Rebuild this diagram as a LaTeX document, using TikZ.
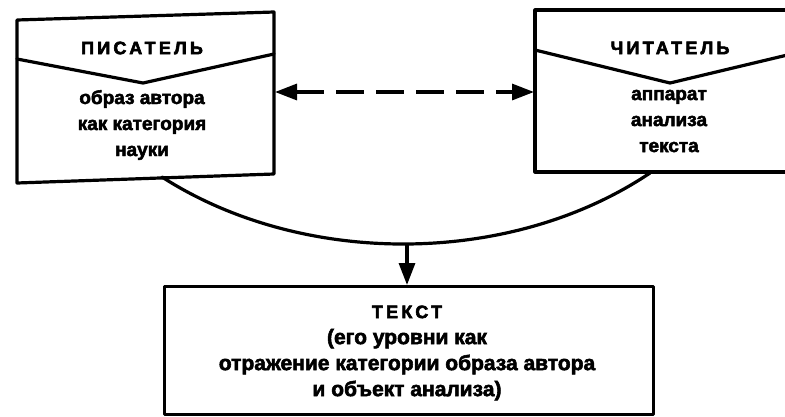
\documentclass[tikz,border=0pt]{standalone}
\usepackage{fontspec}
\setmainfont{Liberation Sans}
\newfontfamily\heavy{Liberation Sans Bold}[FakeBold=2.6]
\newfontfamily\heavycaps{Liberation Sans Bold}[FakeBold=3.2, LetterSpace=18]
\usetikzlibrary{arrows.meta}
\begin{document}
\begin{tikzpicture}[x=1pt,y=-1pt,
  outline/.style={line width=3.2pt, line join=round, line cap=round},
  head/.style={font=\fontsize{18}{20}\selectfont\heavycaps, inner sep=0},
  body/.style={font=\fontsize{19}{26}\selectfont\heavy, align=center, inner sep=0},
  bigbody/.style={font=\fontsize{21}{26}\selectfont\heavy, align=center, inner sep=0},
  bigtri/.tip={Triangle[length=22pt, width=16pt]}]
\clip (0,0) rectangle (785,416);

% writer card
\coordinate (wTL) at (17,20);
\coordinate (wTR) at (274,12);
\coordinate (wBR) at (274,174);
\coordinate (wBL) at (17,183);
\draw[outline] (wTL) -- (wTR) -- (wBR) -- (wBL) -- cycle;
\draw[outline] (17,59) -- (143,83) -- (274,54);
\node[head] (writer) at (142,48) {ПИСАТЕЛЬ};
\node[body] (writerbody) at (142,125) {образ автора\\как категория\\науки};

% reader card
\coordinate (rTL) at (535,10);
\coordinate (rTR) at (800,10);
\coordinate (rBR) at (800,172);
\coordinate (rBL) at (535,172);
\draw[outline] (rTL) -- (rTR) -- (rBR) -- (rBL) -- cycle;
\draw[outline] (535,50) -- (670,83) -- (800,52);
\node[head] (reader) at (670,48) {ЧИТАТЕЛЬ};
\node[body] (readerbody) at (669,121) {аппарат\\анализа\\текста};

% two-way link between the cards
\coordinate (wlink) at (275,92);
\coordinate (rlink) at (534,92);
\draw[outline, line cap=butt, dash pattern=on 28pt off 12pt, bigtri-bigtri] (wlink) -- (rlink);

% text box
\node[outline, draw, minimum width=489pt, minimum height=128pt, inner sep=0,
      anchor=north west] (textbox) at (163,285) {};
\node[bigbody] (textlabel) at (407,353)
  {{\fontsize{18}{26}\selectfont\heavycaps ТЕКСТ}\\(его уровни как\\отражение категории образа автора\\и объект анализа)};

% joining curve and arrow to the text box
\coordinate (cl) at (162,177);
\coordinate (cr) at (650,173);
\coordinate (cb) at (407,243);
\draw[outline] (cl) .. controls (302,267) and (510,267) .. (cr);
\draw[outline, line cap=butt, -bigtri] (cb) -- (cb |- textbox.north);
\end{tikzpicture}
\end{document}
